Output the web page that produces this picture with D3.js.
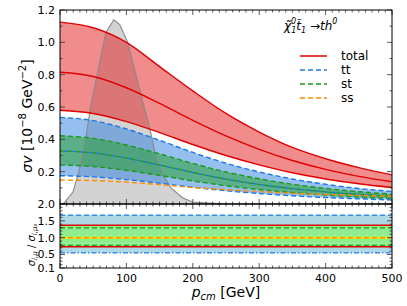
<!DOCTYPE html>
<html><head><meta charset="utf-8">
<script src="https://cdn.jsdelivr.net/npm/d3@7"></script>
<style>body{margin:0;background:#fff} text{font-family:"DejaVu Sans",sans-serif;fill:#000}</style>
</head><body><svg id="c" width="407" height="306"></svg>
<script>
// ---- data ----
const pGrid    = [0, 50, 100, 150, 200, 250, 300, 350, 400, 450, 500];
const totalUp  = [1.125, 1.09, 1.0, 0.85, 0.70, 0.56, 0.445, 0.35, 0.28, 0.225, 0.18];
const totalMid = [0.815, 0.789, 0.719, 0.622, 0.518, 0.421, 0.338, 0.269, 0.214, 0.171, 0.1375];
const totalLo  = [0.58, 0.56, 0.51, 0.442, 0.368, 0.30, 0.242, 0.193, 0.155, 0.125, 0.102];
const ttUp     = [0.536, 0.516, 0.464, 0.394, 0.319, 0.252, 0.198, 0.155, 0.122, 0.096, 0.078];
const ttLo     = [0.175, 0.168, 0.151, 0.129, 0.104, 0.082, 0.065, 0.051, 0.040, 0.032, 0.025];
const stUp     = [0.422, 0.406, 0.365, 0.310, 0.251, 0.198, 0.156, 0.122, 0.096, 0.076, 0.061];
const stLo     = [0.241, 0.232, 0.208, 0.177, 0.143, 0.113, 0.089, 0.070, 0.055, 0.043, 0.035];
const centerMid= [0.328, 0.316, 0.284, 0.241, 0.195, 0.154, 0.121, 0.095, 0.075, 0.059, 0.048];
const ssMid    = [0.148, 0.145, 0.135, 0.120, 0.102, 0.089, 0.077, 0.066, 0.059, 0.053, 0.048];
const distP    = [0, 6, 19.5, 28.5, 39, 46.5, 69, 81, 90, 102, 126, 134, 144, 155, 167, 185, 200, 230, 260, 500];
const distV    = [0, 0.006, 0.074, 0.20, 0.41, 0.61, 1.06, 1.14, 1.11, 1.0, 0.61, 0.49, 0.30, 0.18, 0.10, 0.037, 0.012, 0.005, 0, 0];
// ratio panel (constant)
const ratioP   = [0, 500];
const rTtUp    = [1.67, 1.67];
const rTotUp   = [1.37, 1.37];
const rStUp    = [1.29, 1.29];
const rCenter  = [1.0, 1.0];
const rStLo    = [0.77, 0.77];
const rTotLo   = [0.73, 0.73];
const rTtLo    = [0.55, 0.55];
const xTicks    = [0, 100, 200, 300, 400, 500];
const yTopTicks = [0.2, 0.4, 0.6, 0.8, 1.0, 1.2];
const yBotTicks = [0.1, 0.5, 1.0, 1.5, 2.0];
const legendLabels = ["total", "tt", "st", "ss"];

// ---- scales ----
const svg = d3.select("#c");
const L = 60, R = 392, T = 10, M = 204, B = 268;
const x = d3.scaleLinear().domain([0, 500]).range([L, R]);
const yT = d3.scaleLinear().domain([0, 1.2]).range([M, T]);
const yB = d3.scaleLinear().domain([0.1, 2.0]).range([B, M]);

const defs = svg.append("defs");
defs.append("clipPath").attr("id","cT").append("rect").attr("x",L).attr("y",T).attr("width",R-L).attr("height",M-T);
defs.append("clipPath").attr("id","cB").append("rect").attr("x",L).attr("y",M).attr("width",R-L).attr("height",B-M);

const gT = svg.append("g").attr("clip-path","url(#cT)");
const gB = svg.append("g").attr("clip-path","url(#cB)");

const area = (up, lo, ys, px) => d3.area().x((d,i)=>x(px[i])).y0((d,i)=>ys(lo[i])).y1((d,i)=>ys(up[i])).curve(d3.curveMonotoneX)(up);
const line = (vals, ys, px) => d3.line().x((d,i)=>x(px[i])).y(d=>ys(d)).curve(d3.curveMonotoneX)(vals);

// gray distribution
const distZero = distV.map(()=>0);
gT.append("path").attr("d", d3.area().x((d,i)=>x(distP[i])).y0(yT(0)).y1(d=>yT(d))(distV)).attr("fill","#d3d3d3");

// bands
gT.append("path").attr("d", area(totalUp,totalLo,yT,pGrid)).attr("fill","#e31a1c").attr("fill-opacity",0.5);
gT.append("path").attr("d", area(ttUp,ttLo,yT,pGrid)).attr("fill","#2a7fe0").attr("fill-opacity",0.5);
gT.append("path").attr("d", area(stUp,stLo,yT,pGrid)).attr("fill","#22a022").attr("fill-opacity",0.5);

// distribution outline
gT.append("path").attr("d", d3.line().x((d,i)=>x(distP[i])).y(d=>yT(d))(distV)).attr("fill","none").attr("stroke","#888").attr("stroke-width",1.1);

const RED="#e00000", BLUE="#1e78e6", GREEN="#1a9a1a", ORANGE="#ff8c00";
function ln(g, vals, ys, px, col, dash, w, off){
  const p = g.append("path").attr("d", line(vals, ys, px)).attr("fill","none").attr("stroke",col).attr("stroke-width",w||1.4);
  if (dash) p.attr("stroke-dasharray",dash);
  if (off) p.attr("stroke-dashoffset",off);
  return p;
}
ln(gT, totalUp, yT, pGrid, RED, null, 1.4);
ln(gT, totalMid, yT, pGrid, RED, null, 1.4);
ln(gT, totalLo, yT, pGrid, RED, null, 1.4);
ln(gT, ttUp, yT, pGrid, BLUE, "5,3");
ln(gT, ttLo, yT, pGrid, BLUE, "5,3");
ln(gT, centerMid, yT, pGrid, BLUE, "4,4", 1.4, 4);
ln(gT, centerMid, yT, pGrid, GREEN, "4,4", 1.4);
ln(gT, stUp, yT, pGrid, GREEN, "5,3");
ln(gT, stLo, yT, pGrid, GREEN, "5,3");
ln(gT, ssMid, yT, pGrid, ORANGE, "5,3");

// ratio panel
gB.append("path").attr("d", area(rTtUp,rTtLo,yB,ratioP)).attr("fill","#add8e6");
gB.append("path").attr("d", area(rTotUp,rTotLo,yB,ratioP)).attr("fill","#90ee90");
ln(gB, rTtUp, yB, ratioP, BLUE, "5,3", 1.2);
ln(gB, rTtLo, yB, ratioP, BLUE, "5,2,1.5,2", 1.2);
ln(gB, rTotUp, yB, ratioP, RED, null, 1.6);
ln(gB, rTotLo, yB, ratioP, RED, null, 1.6);
ln(gB, rStUp, yB, ratioP, GREEN, "5,3", 1.2);
ln(gB, rStLo, yB, ratioP, GREEN, "5,3", 1.2);
ln(gB, rCenter, yB, ratioP, "#f0f000", null, 2);
ln(gB, rCenter, yB, ratioP, ORANGE, "5,3", 1.4);

// ---- ticks ----
const tk = svg.append("g").attr("stroke","#333").attr("stroke-width",0.8);
function xt(y0, dir, vals, len){ vals.forEach(v=>tk.append("line").attr("x1",x(v)).attr("x2",x(v)).attr("y1",y0).attr("y2",y0+dir*len)); }
function yt(ys, x0, dir, vals, len){ vals.forEach(v=>tk.append("line").attr("y1",ys(v)).attr("y2",ys(v)).attr("x1",x0).attr("x2",x0+dir*len)); }
const xMinor = d3.range(0, 501, 10).filter(v=>v%100!==0);
const yTMinor = d3.range(1, 12, 2).map(v=>v/10);
const yBMinor = d3.range(2, 20).map(v=>v/10).filter(v=>!yBotTicks.some(t=>Math.abs(t-v)<1e-6));
[[T,1],[M,-1],[M,1],[B,-1]].forEach(([y0,d])=>{ xt(y0,d,xTicks,5); xt(y0,d,xMinor,2.5); });
yt(yT, L, 1, yTopTicks, 5); yt(yT, L, 1, yTMinor, 2.5);
yt(yT, R, -1, yTopTicks, 5); yt(yT, R, -1, yTMinor, 2.5);
yt(yB, L, 1, yBotTicks, 5); yt(yB, L, 1, yBMinor, 2.5);
yt(yB, R, -1, yBotTicks, 5); yt(yB, R, -1, yBMinor, 2.5);

// frames
svg.append("rect").attr("x",L).attr("y",T).attr("width",R-L).attr("height",M-T).attr("fill","none").attr("stroke","#000").attr("stroke-width",1);
svg.append("rect").attr("x",L).attr("y",M).attr("width",R-L).attr("height",B-M).attr("fill","none").attr("stroke","#000").attr("stroke-width",1);

// tick labels
const fmt = d3.format(".1f");
yTopTicks.forEach(v=>svg.append("text").attr("x",L-5).attr("y",yT(v)).attr("dy","0.36em").attr("text-anchor","end").attr("font-size",11).text(fmt(v)));
yBotTicks.forEach(v=>svg.append("text").attr("x",L-5).attr("y",yB(v)).attr("dy","0.36em").attr("text-anchor","end").attr("font-size",11).text(fmt(v)));
xTicks.forEach(v=>svg.append("text").attr("x",x(v)).attr("y",B+14).attr("text-anchor","middle").attr("font-size",11).text(v));

// axis labels
const xl = svg.append("text").attr("x",226).attr("y",297).attr("text-anchor","middle").attr("font-size",14);
xl.append("tspan").attr("font-style","italic").text("p");
xl.append("tspan").attr("font-style","italic").attr("font-size",10).attr("dy",3).text("cm");
xl.append("tspan").attr("dy",-3).text(" [GeV]");

const yl = svg.append("text").attr("transform","translate(32,116) rotate(-90)").attr("text-anchor","middle").attr("font-size",14);
yl.append("tspan").attr("font-style","italic").text("σv");
yl.append("tspan").text(" [10");
yl.append("tspan").attr("font-size",10).attr("dy",-6).text("−8");
yl.append("tspan").attr("dy",6).text(" GeV");
yl.append("tspan").attr("font-size",10).attr("dy",-6).text("−2");
yl.append("tspan").attr("dy",6).text("]");

const yl2 = svg.append("text").attr("transform","translate(35,245) rotate(-90)").attr("text-anchor","middle").attr("font-size",10);
yl2.append("tspan").attr("font-style","italic").text("σ");
yl2.append("tspan").attr("font-size",7).attr("dy",2).attr("font-style","italic").text("i,μ");
yl2.append("tspan").attr("dy",-2).text(" / ");
yl2.append("tspan").attr("font-style","italic").text("σ");
yl2.append("tspan").attr("font-size",7).attr("dy",2).attr("font-style","italic").text("i,μ₀");

// annotation
const an = svg.append("text").attr("x",284).attr("y",30).attr("font-size",12).attr("font-style","italic");
an.append("tspan").text("χ̃");
an.append("tspan").attr("font-size",8).attr("dy",-6).text("0");
an.append("tspan").attr("font-size",8).attr("dx",-5).attr("dy",9).text("1");
an.append("tspan").attr("dy",-3).text("t̃");
an.append("tspan").attr("font-size",8).attr("dy",3).text("1");
an.append("tspan").attr("font-style","normal").attr("dy",-3).text(" →");
an.append("tspan").text("th");
an.append("tspan").attr("font-size",8).attr("dy",-6).text("0");

// legend
const legCols = [RED, BLUE, GREEN, ORANGE];
const legDash = [null, "5,3", "5,3", "5,3"];
legendLabels.forEach((lab,i)=>{
  const yy = 56 + i*14;
  const l = svg.append("line").attr("x1",300).attr("x2",327).attr("y1",yy).attr("y2",yy).attr("stroke",legCols[i]).attr("stroke-width",1.5);
  if (legDash[i]) l.attr("stroke-dasharray",legDash[i]);
  svg.append("text").attr("x",341).attr("y",yy).attr("dy","0.36em").attr("font-size",12).text(lab);
});
</script></body></html>
